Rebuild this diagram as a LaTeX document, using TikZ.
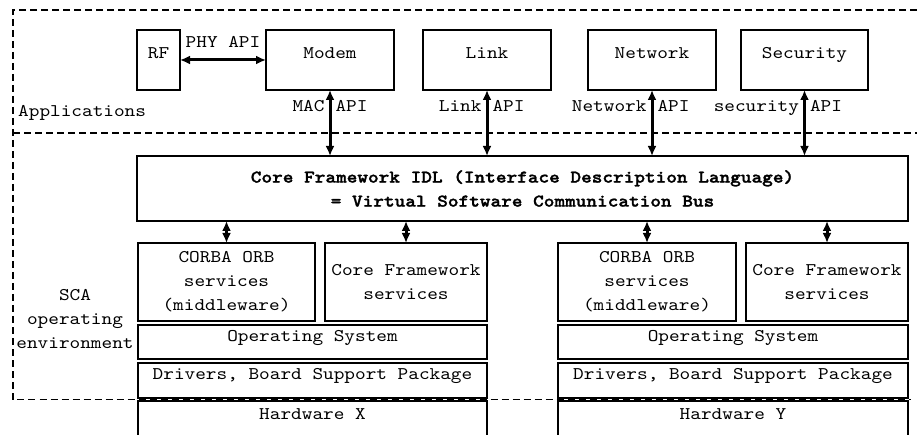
\documentclass[tikz,border=0pt]{standalone}
\usepackage{fontspec}
\setmonofont{lmmono10-regular.otf}[FakeStretch=1.14, BoldFont=lmmonolt10-bold.otf, BoldFeatures={FakeBold=1.5}]
\usetikzlibrary{arrows.meta}

\tikzset{
  box/.style={draw, line width=1.3pt, inner sep=0pt, outer sep=0pt, text height=12pt, text depth=14pt},
  mbox/.style={draw, line width=1.3pt, inner sep=0pt, outer sep=0pt, align=center},
  api/.style={line width=3pt, {Latex[length=10pt,width=9pt]}-{Latex[length=10pt,width=9pt]}},
  dashline/.style={line width=1.2pt, dash pattern=on 7pt off 4pt},
}

\begin{document}
\begin{tikzpicture}[x=1pt, y=-1pt, every node/.style={font=\fontsize{17.8pt}{24pt}\ttfamily}]
			\clip (0,0) rectangle (917,435);
			
			% dashed frames: applications / SCA operating environment
			\draw[dashline] (917,10) -- (13,10) -- (13,399.5) -- (911,399.5);
			\draw[dashline] (13,133) -- (917,133);
			
			\node[anchor=base west, inner sep=0pt] (apps) at (18,117) {Applications};
			\node[align=center, inner sep=0pt] (sca) at (75,319.5) {SCA\\operating\\environment};
			
			% applications
			\node[box, minimum width=43pt, minimum height=60pt] (rf) at (158.5,60) {RF};
			\node[box, minimum width=128pt, minimum height=60pt] (modem) at (330,60) {Modem};
			\node[box, minimum width=128pt, minimum height=60pt] (link) at (487,60) {Link};
			\node[box, minimum width=128pt, minimum height=60pt] (network) at (652,60) {Network};
			\node[box, minimum width=127pt, minimum height=60pt] (security) at (804.5,60) {Security};
			
			% software bus
			\node[mbox, minimum width=771pt, minimum height=65pt, font=\fontsize{17.8pt}{24pt}\ttfamily\bfseries] (cf) at (522.5,188.5)
			{Core Framework IDL (Interface Description Language)\\= Virtual Software Communication Bus};
			
			% left stack
			\node[mbox, minimum width=177pt, minimum height=78pt] (corbaX) at (226.5,282) {CORBA ORB\\services\\(middleware)};
			\node[mbox, minimum width=162pt, minimum height=78pt] (cfsX) at (406,282) {Core Framework\\services};
			\node[box, minimum width=349pt, minimum height=34pt] (osX) at (312.5,342) {Operating System};
			\node[box, minimum width=349pt, minimum height=35pt] (drvX) at (312.5,380.5) {Drivers, Board Support Package};
			\node[box, minimum width=349pt, minimum height=39pt] (hwX) at (312.5,420.5) {Hardware X};
			
			% right stack
			\node[mbox, minimum width=178pt, minimum height=78pt] (corbaY) at (647,282) {CORBA ORB\\services\\(middleware)};
			\node[mbox, minimum width=162pt, minimum height=78pt] (cfsY) at (827,282) {Core Framework\\services};
			\node[box, minimum width=350pt, minimum height=34pt] (osY) at (733,342) {Operating System};
			\node[box, minimum width=350pt, minimum height=35pt] (drvY) at (733,380.5) {Drivers, Board Support Package};
			\node[box, minimum width=350pt, minimum height=39pt] (hwY) at (733,420.5) {Hardware Y};
			
			% APIs
			\draw[api] (rf) -- (modem) node[midway, anchor=base, yshift=12pt] (phy) {PHY API};
			\draw[api] (modem.south) -- (modem.south |- cf.north)
			node[pos=0.333, anchor=base east, inner xsep=4pt] (macL) {MAC} node[pos=0.333, anchor=base west, inner xsep=4pt] (macR) {API};
			\draw[api] (link.south) -- (link.south |- cf.north)
			node[pos=0.333, anchor=base east, inner xsep=4pt] (linkL) {Link} node[pos=0.333, anchor=base west, inner xsep=4pt] (linkR) {API};
			\draw[api] (network.south) -- (network.south |- cf.north)
			node[pos=0.333, anchor=base east, inner xsep=4pt] (netL) {Network} node[pos=0.333, anchor=base west, inner xsep=4pt] (netR) {API};
			\draw[api] (security.south) -- (security.south |- cf.north)
			node[pos=0.333, anchor=base east, inner xsep=4pt] (secL) {security} node[pos=0.333, anchor=base west, inner xsep=4pt] (secR) {API};
			
			% bus to services
			\draw[api] (corbaX.north |- cf.south) -- (corbaX.north);
			\draw[api] (cfsX.north |- cf.south) -- (cfsX.north);
			\draw[api] (corbaY.north |- cf.south) -- (corbaY.north);
			\draw[api] (cfsY.north |- cf.south) -- (cfsY.north);
\end{tikzpicture}
\end{document}
